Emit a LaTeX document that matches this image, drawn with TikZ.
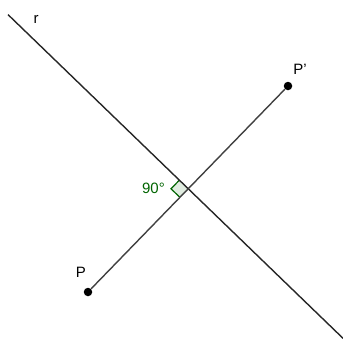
\documentclass[tikz,border=0pt]{standalone}
\usepackage{fontspec}
\setmainfont{Liberation Sans}
\usetikzlibrary{calc}
\definecolor{angcol}{RGB}{0,100,0}
\begin{document}
\begin{tikzpicture}[x=1pt,y=-1pt,
  lineR/.style={line width=1.4pt,draw=black!85},
  seg/.style={line width=1.4pt,draw=black!75},
  pt/.style={circle,fill=black,inner sep=0pt,minimum size=8.5pt},
  lab/.style={font=\fontsize{15}{15}\selectfont,inner sep=0pt}]
\useasboundingbox (0,0) rectangle (343,343);
\coordinate (r1) at (8,14.6);
\coordinate (r2) at (343,338.3);
\coordinate (M) at (188,188.5);
\coordinate (A) at ($(M)!12pt!(r1)$);
\coordinate (B) at ($(M)!12pt!(88,292)$);
\fill[angcol,fill opacity=0.12] (M) -- (A) -- ($(A)+(B)-(M)$) -- (B) -- cycle;
\draw[angcol,line width=1.2pt] (A) -- ($(A)+(B)-(M)$) -- (B);
\draw[lineR] (r1) -- (r2);
\node[pt] (P) at (88,292) {};
\node[pt] (Pp) at (288,86) {};
\draw[seg] (P) -- (Pp);
\node[lab] (lr) at (36,19) {r};
\node[lab] (lP) at (81,272) {P};
\node[lab] (lPp) at (300,69.5) {P'};
\node[lab,text=angcol] (l90) at (153.5,188.5) {90°};
\end{tikzpicture}
\end{document}
